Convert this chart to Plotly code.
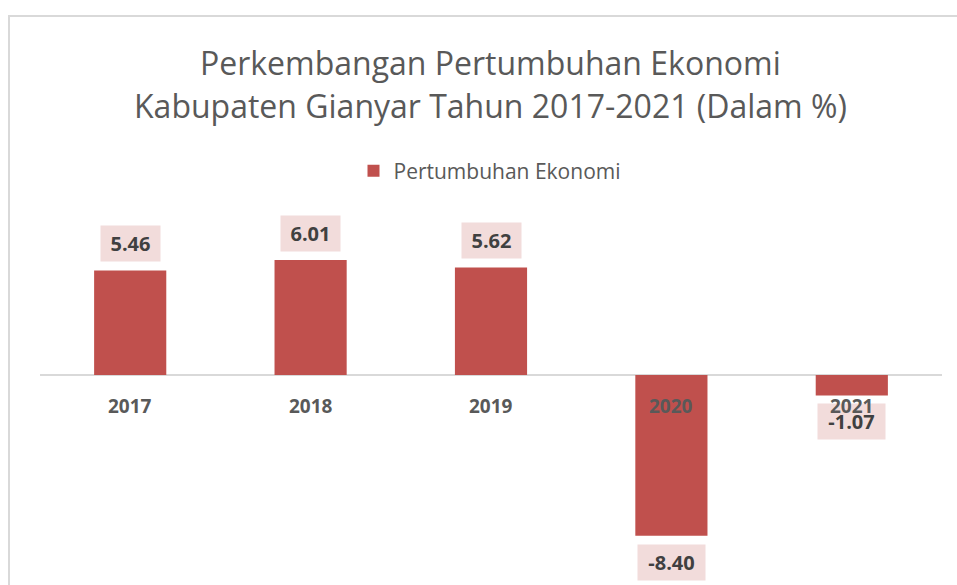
import plotly.graph_objects as go

years = ["2017", "2018", "2019", "2020", "2021"]
growth = [5.46, 6.01, 5.62, -8.40, -1.07]
series_name = "Pertumbuhan Ekonomi"
title_lines = ["Perkembangan Pertumbuhan Ekonomi", "Kabupaten Gianyar Tahun 2017-2021 (Dalam %)"]

W, H = 957, 585
BAR = "#C0504D"
FONT = "Open Sans"

# plot area in pixels
L, R = 40, 942
top_px, bot_px, zero_px = 200, 585, 375
PH = bot_px - top_px
PW = R - L


def py(p):
    return (bot_px - p) / PH


def px(p):
    return (p - L) / PW


idx = list(range(len(years)))

fig = go.Figure()
fig.add_trace(go.Bar(
    x=idx, y=growth, name=series_name, marker_color=BAR,
    marker_line_width=0, width=0.4, showlegend=True,
))

annotations = []
for i, v in zip(idx, growth):
    label = f"{v:.2f}"
    annotations.append(dict(
        x=i, y=v, xref="x", yref="y", text=f"<b>{label}</b>",
        showarrow=False, yanchor="bottom" if v >= 0 else "top",
        yshift=8 if v >= 0 else -8, width=8 * len(label) + 19,
        bgcolor="#F2DCDB", borderpad=4,
        font=dict(family=FONT, size=20, color="#404040"),
    ))
for i, yr in zip(idx, years):
    annotations.append(dict(
        x=i, y=0, xref="x", yref="y", text=f"<b>{yr}</b>",
        showarrow=False, yanchor="middle", yshift=-31,
        font=dict(family=FONT, size=19, color="#595959"),
    ))
for line, yc in zip(title_lines, [62, 105]):
    annotations.append(dict(
        x=px(490), y=py(yc), xref="paper", yref="paper", yanchor="middle",
        xanchor="center", text=line,
        showarrow=False, font=dict(family=FONT, size=32, color="#595959"),
    ))

px_per_unit = 19.15
y_max = (zero_px - top_px) / px_per_unit
y_min = -(bot_px - zero_px) / px_per_unit

fig.update_layout(
    width=W, height=H,
    margin=dict(l=L, r=W - R, t=top_px, b=0, autoexpand=False),
    paper_bgcolor="white", plot_bgcolor="white",
    showlegend=True,
    legend=dict(orientation="h", x=px(490), xanchor="center", y=py(171), yanchor="middle",
                font=dict(family=FONT, size=21, color="#595959"),
                bgcolor="rgba(0,0,0,0)"),
    xaxis=dict(range=[-0.5, len(years) - 0.5], showticklabels=False, showgrid=False,
               zeroline=False, showline=False, fixedrange=True),
    yaxis=dict(range=[y_min, y_max], showticklabels=False, showgrid=False,
               zeroline=True, zerolinecolor="#D9D9D9", zerolinewidth=2, fixedrange=True),
    annotations=annotations,
    shapes=[
        dict(type="line", xref="paper", yref="paper", x0=px(8), x1=px(960), y0=py(16), y1=py(16),
             line=dict(color="#D9D9D9", width=2)),
        dict(type="line", xref="paper", yref="paper", x0=px(9), x1=px(9), y0=py(16), y1=py(590),
             line=dict(color="#D9D9D9", width=2)),
    ],
)
fig.write_html("out.html", config={"displayModeBar": False},
               post_script="document.body.style.margin='0';")
